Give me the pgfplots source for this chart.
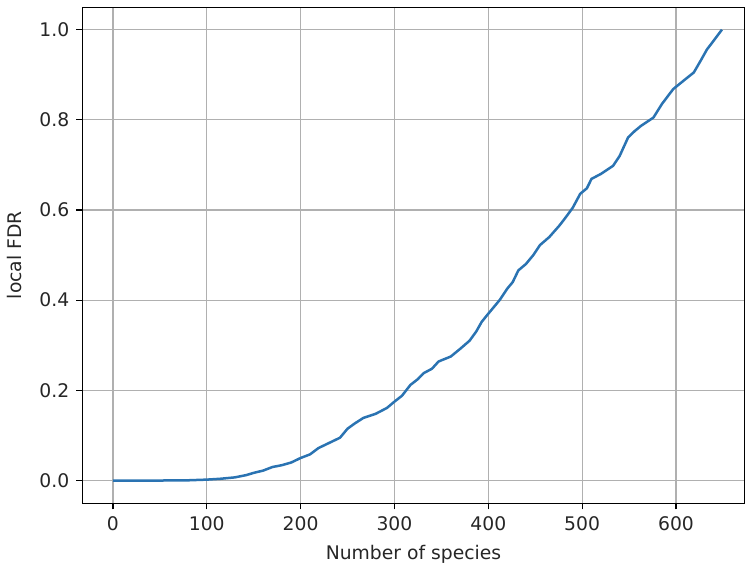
\documentclass[border=0pt]{standalone}
\usepackage{pgfplots}
\pgfplotsset{compat=1.18}
\usepackage{fontspec}
\setmainfont{DejaVu Sans}
\definecolor{mplblue}{HTML}{2A73B2}
\definecolor{gridgray}{HTML}{B0B0B0}
\begin{document}
\begin{tikzpicture}
\path[use as bounding box] (-59.4pt,-43.92pt) rectangle (477.7pt,362.2pt);
\begin{axis}[
  at={(0pt,0pt)}, anchor=south west,
  scale only axis,
  width=476.6pt, height=357.1pt,
  xmin=-32.45, xmax=673,
  ymin=-0.05, ymax=1.05,
  xtick={0,100,...,600},
  ytick={0,0.2,...,1.0},
  /pgf/number format/assume math mode=true,
  tick label style={font=\fontsize{13.5pt}{16pt}\selectfont, text=black!85},
  label style={font=\fontsize{13.5pt}{16pt}\selectfont, text=black!85},
  xticklabel style={yshift=-2pt},
  yticklabel style={xshift=-1.5pt, /pgf/number format/.cd, fixed, fixed zerofill, precision=1},
  xlabel={Number of species},
  ylabel={local FDR},
  tick pos=left,
  tick align=outside,
  major tick length=4.5pt,
  every tick/.style={black, line width=0.8pt},
  axis line style={line width=0.8pt},
  grid=major,
  major grid style={gridgray, line width=0.8pt},
  xlabel style={yshift=-3pt},
  ylabel style={yshift=6pt},
]
\addplot[mplblue, line width=1.8pt, line join=round] coordinates {
(0,0) (50,0) (80,0.0005) (100,0.002) (115,0.004) (130,0.007) (142,0.012)
(150,0.017) (160,0.022) (170,0.03) (180,0.034) (190,0.04) (200,0.05)
(210,0.058) (219,0.072) (230,0.083) (242,0.095) (250,0.115) (258,0.127)
(267,0.139) (280,0.148) (292,0.161) (300,0.175) (308,0.188) (317,0.212)
(325,0.225) (331,0.238) (340,0.248) (347,0.264) (360,0.275) (370,0.292)
(380,0.31) (387,0.33) (393,0.352) (400,0.37) (406,0.385) (412,0.40)
(420,0.425) (426,0.44) (432,0.466) (440,0.48) (448,0.50) (455,0.522)
(465,0.54) (476,0.566) (483,0.585) (490,0.605) (498,0.636) (505,0.648)
(510,0.669) (520,0.68) (533,0.698) (540,0.72) (549,0.761) (556,0.775)
(563,0.787) (576,0.805) (585,0.835) (597,0.868) (610,0.89) (619,0.905)
(626,0.93) (633,0.956) (640,0.975) (649,1.0)
};
\end{axis}
\end{tikzpicture}
\end{document}
